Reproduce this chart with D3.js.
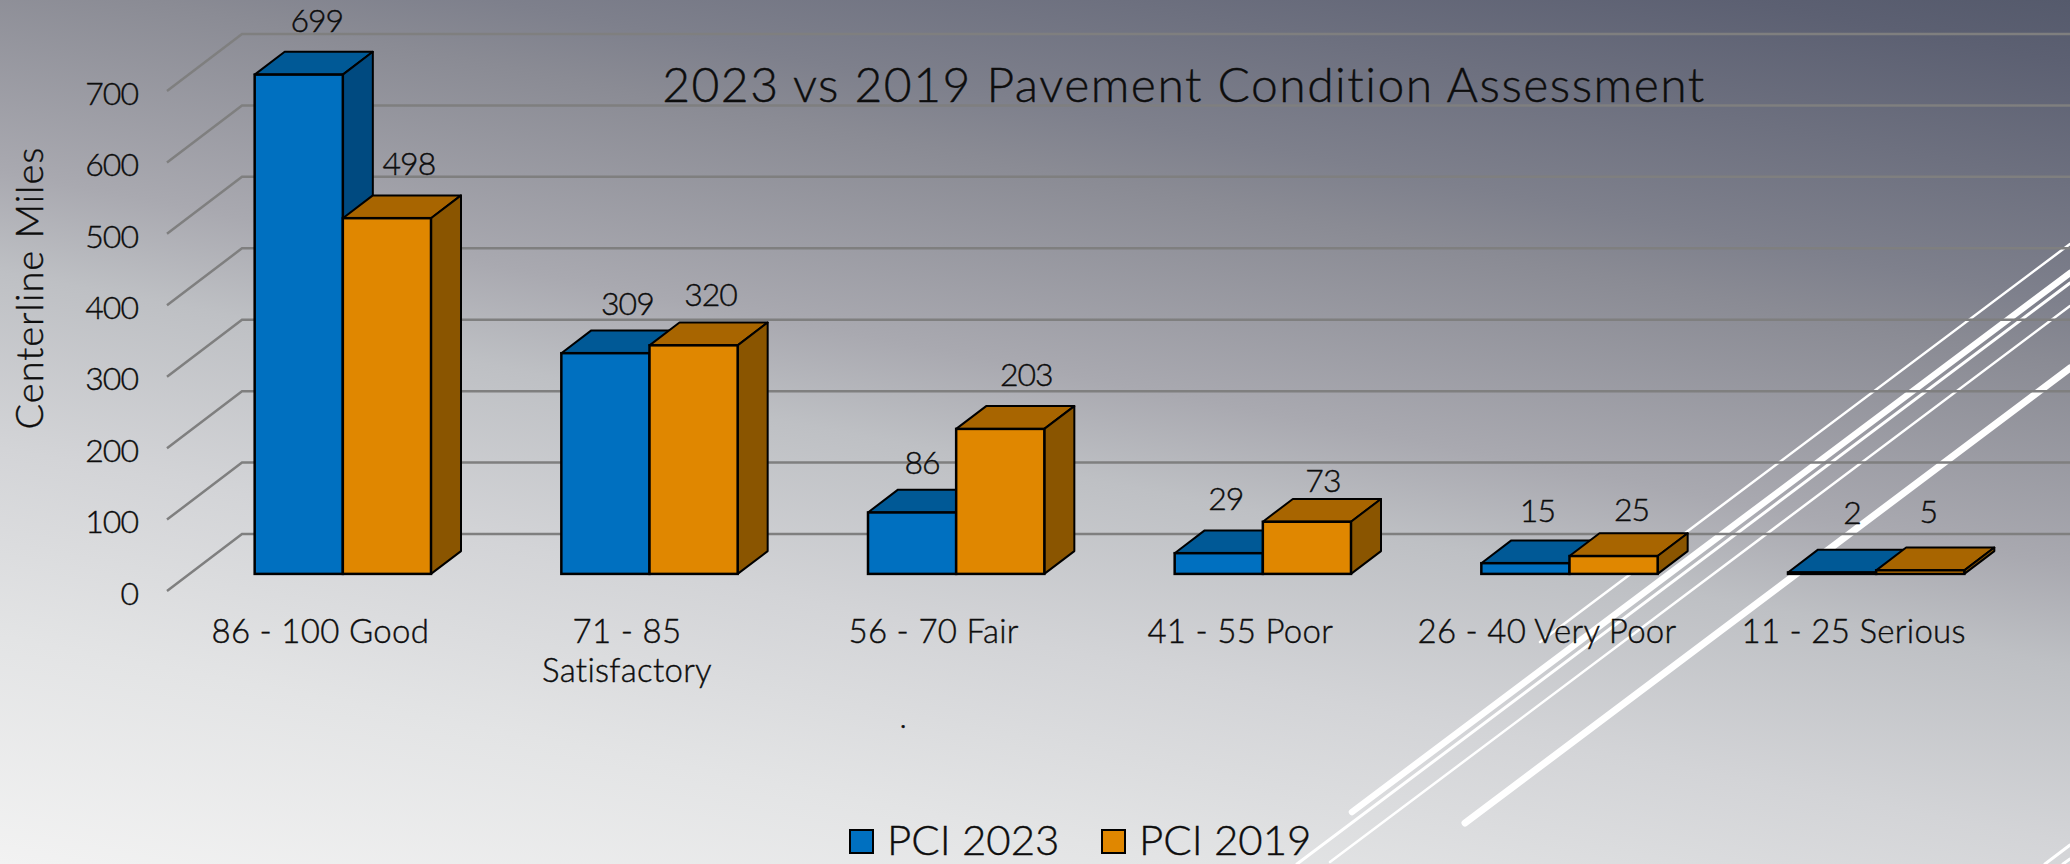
<!DOCTYPE html>
<html>
<head>
<meta charset="utf-8">
<script src="https://d3js.org/d3.v7.min.js"></script>
<style>
  html, body { margin: 0; padding: 0; background: #fff; overflow: hidden; }
  svg { display: block; }
  text { font-family: Lato, "Open Sans", sans-serif; font-weight: 300; fill: #0d0d0d; stroke: #0d0d0d; stroke-width: 0.4px; }
</style>
</head>
<body>
<div id="container"></div>
<script>
// data
const categories = ["86 - 100 Good", "71 - 85 Satisfactory", "56 - 70 Fair", "41 - 55 Poor", "26 - 40 Very Poor", "11 - 25 Serious"];
const pci2023 = [699, 309, 86, 29, 15, 2];
const pci2019 = [498, 320, 203, 73, 25, 5];
const yTicks = [0, 100, 200, 300, 400, 500, 600, 700];
const seriesNames = ["PCI 2023", "PCI 2019"];

const width = 2070;
const height = 864;

const colors = [
  {front: "#0070c0", top: "#005996", side: "#004a80"},
  {front: "#e08700", top: "#a86500", side: "#8a5500"}
];

// the data labels were dragged by hand in the original, so they need a nudge each
const labelNudge = [
  [[3, -20], [7, -20]], [[7, -15], [2, -17]], [[-5, -16], [11, -20]],
  [[-8, -20], [1, -7]], [[-3, -18], [3, -12]], [[5, -26], [-7, -25]]
];

// white streaks of the slide background
const streaks = [
  {x1: 1352, y1: 812, x2: 2070, y2: 273, w: 6.5},
  {x1: 1297, y1: 864, x2: 2070, y2: 283, w: 3},
  {x1: 1330, y1: 862, x2: 2070, y2: 306, w: 2.5},
  {x1: 1465, y1: 823, x2: 2070, y2: 368, w: 7},
  {x1: 1540, y1: 642, x2: 2070, y2: 244, w: 2.5},
  {x1: 2045, y1: 864, x2: 2070, y2: 845, w: 3},
  {x1: 2063, y1: 864, x2: 2070, y2: 859, w: 3}
];

const svg = d3.select("#container").append("svg")
    .attr("width", width)
    .attr("height", height);

//--------------------------BACKGROUND--------------------------//
const bgStops = [
  [0, "#555a6c"], [0.05, "#5c6072"], [0.24, "#7e808c"], [0.29, "#8a8b94"],
  [0.45, "#a9a9b0"], [0.53, "#bec0c4"], [0.67, "#d3d4d7"], [0.82, "#e3e4e5"], [1, "#f2f2f2"]
];
const grad = svg.append("defs").append("linearGradient")
    .attr("id", "bg")
    .attr("gradientUnits", "userSpaceOnUse")
    .attr("x1", 2070).attr("y1", 0)
    .attr("x2", 1839).attr("y2", 1213);
grad.selectAll("stop").data(bgStops).enter().append("stop")
    .attr("offset", d => d[0])
    .attr("stop-color", d => d[1]);

svg.append("rect")
    .attr("width", width)
    .attr("height", height)
    .attr("fill", "url(#bg)");

svg.append("g").selectAll("line").data(streaks).enter().append("line")
    .attr("x1", d => d.x1).attr("y1", d => d.y1)
    .attr("x2", d => d.x2).attr("y2", d => d.y2)
    .attr("stroke", "#fff")
    .attr("stroke-width", d => d.w)
    .attr("stroke-linecap", "round");

//----------------------------SCALES----------------------------//
// front edge of the floor; the back wall sits wallDx right and wallDy up of it
const xScale = d3.scaleBand().domain(categories).range([167, 2007]);
const yScale = d3.scaleLinear().domain([0, 700]).range([591, 91]);
const wallDx = 75;
const wallDy = 57;

const depthStart = 0.3;
const depth = 0.4;
const barW = xScale.bandwidth() * 0.2875;

//---------------------------GRIDLINES--------------------------//
const gridLine = d3.line();
svg.append("g").selectAll("path").data(yTicks).enter().append("path")
    .attr("d", d => gridLine([
      [xScale.range()[0], yScale(d)],
      [xScale.range()[0] + wallDx, yScale(d) - wallDy],
      [width, yScale(d) - wallDy]
    ]))
    .attr("fill", "none")
    .attr("stroke", "#7f7f7f")
    .attr("stroke-width", 2.5);

//-----------------------------AXES-----------------------------//
const yaxis = d3.axisLeft(yScale).tickValues(yTicks).tickSize(0).tickPadding(0);
const yG = svg.append("g")
    .attr("transform", "translate(138,3)")
    .call(yaxis);
yG.select(".domain").remove();
yG.selectAll("text").style("font-size", "32px").attr("fill", "#0d0d0d").style("letter-spacing", "-1px");

svg.append("text")
    .attr("transform", "translate(43,288) rotate(-90)")
    .attr("text-anchor", "middle")
    .style("font-size", "38px")
    .style("letter-spacing", "1px")
    .text("Centerline Miles");

// category labels, the long one wraps like in the original
const catG = svg.append("g").selectAll("text").data(categories).enter().append("text")
    .attr("x", d => xScale(d) + xScale.bandwidth() / 2)
    .attr("y", 643)
    .attr("text-anchor", "middle")
    .style("font-size", "33px")
    .style("letter-spacing", "0.3px");
catG.each(function(d) {
  const parts = d === "71 - 85 Satisfactory" ? ["71 - 85", "Satisfactory"] : [d];
  d3.select(this).selectAll("tspan").data(parts).enter().append("tspan")
      .attr("x", xScale(d) + xScale.bandwidth() / 2)
      .attr("dy", (p, i) => i === 0 ? 0 : 39)
      .text(p => p);
});

//-----------------------------BARS-----------------------------//
const rows = categories.map(function(c, i) {
  return {cat: c, i: i, values: [pci2023[i], pci2019[i]]};
});
const dx = wallDx * depth;
const dy = wallDy * depth;
const shiftX = wallDx * depthStart;
const shiftY = wallDy * depthStart;

const groups = svg.append("g").selectAll("g").data(rows).enter().append("g");

function barBox(row, s) {
  const left = xScale(row.cat) + xScale.bandwidth() / 2 + shiftX - barW + s * barW;
  const bottom = yScale(0) - shiftY;
  const top = yScale(row.values[s]) - shiftY;
  return {left: left, right: left + barW, top: top, bottom: bottom};
}

[0, 1].forEach(function(s) {
  const stroke = {stroke: "#000", width: 2};
  groups.append("path")
      .attr("d", function(r) {
        const b = barBox(r, s);
        return d3.line()([[b.left, b.top], [b.left + dx, b.top - dy], [b.right + dx, b.top - dy], [b.right, b.top]]) + "Z";
      })
      .attr("fill", colors[s].top)
      .attr("stroke", stroke.stroke).attr("stroke-width", stroke.width).attr("stroke-linejoin", "round");
  groups.append("path")
      .attr("d", function(r) {
        const b = barBox(r, s);
        return d3.line()([[b.right, b.top], [b.right + dx, b.top - dy], [b.right + dx, b.bottom - dy], [b.right, b.bottom]]) + "Z";
      })
      .attr("fill", colors[s].side)
      .attr("stroke", stroke.stroke).attr("stroke-width", stroke.width).attr("stroke-linejoin", "round");
  groups.append("rect")
      .attr("x", r => barBox(r, s).left)
      .attr("y", r => barBox(r, s).top)
      .attr("width", barW)
      .attr("height", r => barBox(r, s).bottom - barBox(r, s).top)
      .attr("fill", colors[s].front)
      .attr("stroke", stroke.stroke).attr("stroke-width", 2.5);
});

[0, 1].forEach(function(s) {
  groups.append("text")
      .attr("x", r => barBox(r, s).left + barW / 2 + dx / 2 + labelNudge[r.i][s][0])
      .attr("y", r => barBox(r, s).top - dy + labelNudge[r.i][s][1])
      .attr("text-anchor", "middle")
      .style("font-size", "32px")
      .style("letter-spacing", "-1px")
      .text(r => r.values[s]);
});

//-----------------------------TITLE----------------------------//
svg.append("text")
    .attr("x", 1184)
    .attr("y", 102)
    .attr("text-anchor", "middle")
    .style("font-size", "48px")
    .style("letter-spacing", "1.5px")
    .text("2023 vs 2019 Pavement Condition Assessment");

svg.append("text")
    .attr("x", 903)
    .attr("y", 728)
    .attr("text-anchor", "middle")
    .style("font-size", "31px")
    .text(".");

//----------------------------LEGEND----------------------------//
const legend = svg.append("g").selectAll("g").data(seriesNames).enter().append("g")
    .attr("transform", (d, i) => "translate(" + (850 + i * 252) + ",830)");
legend.append("rect")
    .attr("width", 23)
    .attr("height", 23)
    .attr("fill", (d, i) => colors[i].front)
    .attr("stroke", "#000")
    .attr("stroke-width", 2);
legend.append("text")
    .attr("x", 37)
    .attr("y", 25)
    .style("font-size", "42px")
    .text(d => d);
</script>
</body>
</html>
